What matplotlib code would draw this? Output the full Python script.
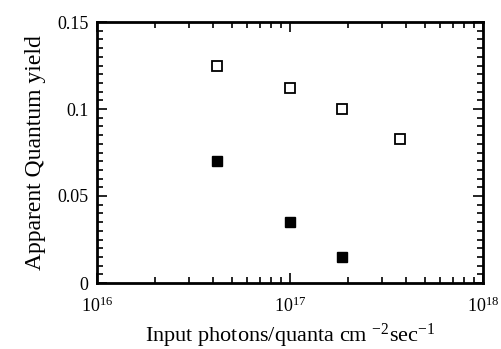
import matplotlib
matplotlib.use("Agg")
import matplotlib.pyplot as plt
from matplotlib.ticker import LogLocator, MultipleLocator, FixedLocator, NullFormatter

plt.rcParams['font.family'] = ['Liberation Serif', 'DejaVu Serif']
plt.rcParams['mathtext.fontset'] = 'custom'
plt.rcParams['mathtext.rm'] = 'Liberation Serif'
plt.rcParams['mathtext.it'] = 'Liberation Serif'

open_x = [4.17e16, 1.0e17, 1.85e17, 3.72e17]
open_y = [0.125, 0.112, 0.100, 0.083]
filled_x = [4.17e16, 1.0e17, 1.85e17]
filled_y = [0.070, 0.035, 0.015]

xticks = [1e16, 1e17, 1e18]
xticklabels = ['10$^{16}$', '10$^{17}$', '10$^{18}$']
yticks = [0, 0.05, 0.1, 0.15]
yticklabels = ['0', '0.05', '0.1', '0.15']

fig = plt.figure(figsize=(5.01, 3.49), dpi=100)
ax = fig.add_axes([97/501, 1-283/349, 386/501, 261/349])

ax.plot(open_x, open_y, linestyle='none', marker='s', markersize=7,
        markerfacecolor='white', markeredgecolor='black', markeredgewidth=1.3)
ax.plot(filled_x, filled_y, linestyle='none', marker='s', markersize=7,
        markerfacecolor='black', markeredgecolor='black')

ax.set_xscale('log')
ax.set_xlim(1e16, 1e18)
ax.set_ylim(0, 0.15)
ax.xaxis.set_major_locator(FixedLocator(xticks))
ax.set_xticklabels(xticklabels)
ax.xaxis.set_minor_locator(LogLocator(base=10, subs=range(2, 10)))
ax.xaxis.set_minor_formatter(NullFormatter())
ax.yaxis.set_major_locator(FixedLocator(yticks))
ax.set_yticklabels(yticklabels)
ax.yaxis.set_minor_locator(MultipleLocator(0.005))

for s in ax.spines.values():
    s.set_linewidth(2)
ax.tick_params(which='both', direction='in', top=True, right=True, labelsize=13, width=1.2)
ax.tick_params(which='major', length=7)
ax.tick_params(axis='y', which='major', pad=6)
ax.tick_params(axis='x', which='major', pad=10)
ax.tick_params(which='minor', length=4)

ax.set_xlabel('Input photons/quanta cm $^{-2}$sec$^{-1}$', fontsize=16, labelpad=4)
ax.set_ylabel('Apparent Quantum yield', fontsize=17, labelpad=8)

fig.savefig('out.png', dpi=100)
